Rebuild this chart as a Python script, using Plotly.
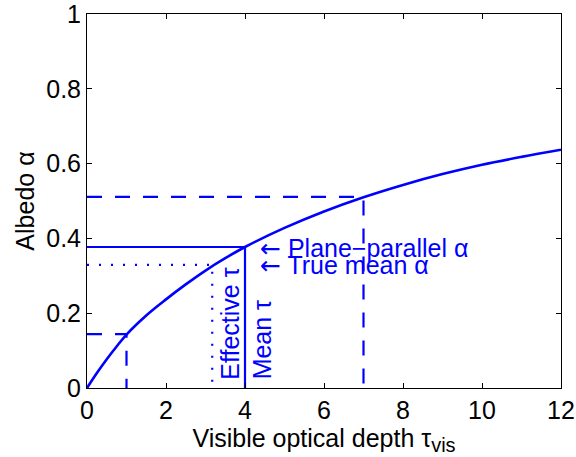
import plotly.graph_objects as go

# Curve
tau = [0, 0.25, 0.5, 0.75, 1, 1.5, 2, 2.5, 3, 3.5, 4, 5, 6, 7, 8, 9, 10, 11, 12]
albedo = [0, 0.040, 0.077, 0.111, 0.143, 0.194, 0.237, 0.277, 0.314, 0.347, 0.377,
          0.428, 0.472, 0.510, 0.543, 0.572, 0.597, 0.618, 0.637]

# Reference lines
thin_tau, thin_alpha = 1.0, 0.144
thick_tau, thick_alpha = 7.0, 0.511
mean_tau, pp_alpha = 4.0, 0.377
eff_tau, true_alpha = 3.17, 0.329

x_ticks = [0, 2, 4, 6, 8, 10, 12]
y_ticks = [0, 0.2, 0.4, 0.6, 0.8, 1]
y_tick_text = ["0", "0.2", "0.4", "0.6", "0.8", "1"]

BLUE = "#0000ff"
FONT = "Liberation Sans, Arial, Helvetica, sans-serif"
FS = 25

fig = go.Figure()

def corner(t, a, dash, width):
    fig.add_trace(go.Scatter(x=[0, t, t], y=[a, a, 0], mode="lines",
                             line=dict(color=BLUE, width=width, dash=dash),
                             hoverinfo="skip", showlegend=False))

corner(thin_tau, thin_alpha, "15px,13px", 2.2)
corner(thick_tau, thick_alpha, "15px,13px", 2.2)
corner(eff_tau, true_alpha, "2px,10px", 2.2)
corner(mean_tau, pp_alpha, "solid", 2.2)

fig.add_trace(go.Scatter(x=tau, y=albedo, mode="lines",
                         line=dict(color=BLUE, width=2.6, shape="spline", smoothing=1.0),
                         showlegend=False))

ann_font = dict(family=FONT, size=25, color=BLUE)
ARROW = "<span style='font-family:DejaVu Sans'>\u2190</span>"
fig.add_annotation(x=4.33, y=0.373, text=ARROW + " Plane\u2212parallel \u03b1", showarrow=False,
                   xanchor="left", yanchor="middle", font=ann_font)
fig.add_annotation(x=4.33, y=0.328, text=ARROW + " True mean \u03b1", showarrow=False,
                   xanchor="left", yanchor="middle", font=ann_font)
fig.add_annotation(x=3.63, y=0.018, text="Effective \u03c4", showarrow=False, textangle=-90,
                   xanchor="center", yanchor="bottom", font=ann_font)
fig.add_annotation(x=4.42, y=0.018, text="Mean \u03c4", showarrow=False, textangle=-90,
                   xanchor="center", yanchor="bottom", font=ann_font)

axis_common = dict(showline=True, linecolor="black", linewidth=1, mirror="ticks",
                   ticks="inside", ticklen=5, tickcolor="black", showgrid=False,
                   zeroline=False, automargin=False, ticklabeloverflow="allow",
                   tickfont=dict(family=FONT, size=FS, color="black"))

fig.update_xaxes(range=[0, 12], tickvals=x_ticks,
                 title=dict(text="Visible optical depth \u03c4<sub><span style='font-size:20px'>vis</span></sub>",
                            font=dict(family=FONT, size=FS, color="black"), standoff=0),
                 **axis_common)
fig.update_yaxes(range=[0, 1], tickvals=y_ticks, ticktext=y_tick_text,
                 title=dict(text="Albedo \u03b1", font=dict(family=FONT, size=FS, color="black"),
                            standoff=4),
                 **axis_common)

fig.update_layout(width=576, height=457, plot_bgcolor="white", paper_bgcolor="white",
                  margin=dict(l=87, r=15, t=14, b=69), font=dict(family=FONT))

# Remove the browser's default 8px body margin so the figure fills the window.
fig.write_html("out.html", config={"displayModeBar": False},
               post_script="document.body.style.margin='0px';")
